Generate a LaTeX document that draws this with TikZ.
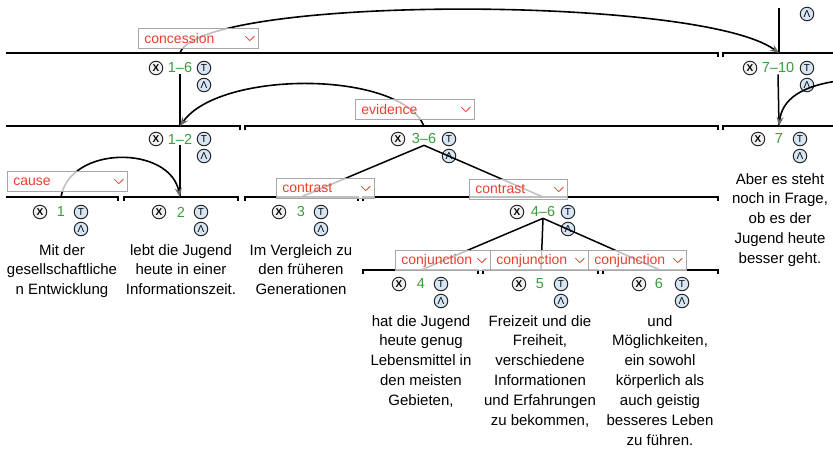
\documentclass[tikz,border=0pt]{standalone}
\usepackage{fontspec}
\setmainfont{Liberation Sans}
\usetikzlibrary{arrows.meta,calc}
\definecolor{relred}{HTML}{E8402F}
\definecolor{numgreen}{HTML}{3C9C3C}
\definecolor{cblue}{HTML}{D6E6F4}
\newcommand\rstlab[6]{%
  \node[num] (#1) at (#2,#3) {#4};
  \node[xc] (#1x) at ($(#1)+(-#5,0)$) {X};
  \node[tc] (#1t) at ($(#1)+(#6,0)$) {T};
  \node[ac] (#1a) at ($(#1)+(#6,17)$) {Λ};
}
\newcommand\chev[1]{%
  \draw[relred, line width=0.8pt] ($(#1.east)+(-13.5,-2.2)$) -- ($(#1.east)+(-9,2.2)$) -- ($(#1.east)+(-4.5,-2.2)$);
}
\begin{document}
\begin{tikzpicture}[x=1pt,y=-1pt,
  spanline/.style={line width=1.4pt},
  tree/.style={line width=1.5pt},
  arc/.style={line width=1.6pt, -{Stealth[length=9pt,width=7pt,inset=3pt,fill=black!60,color=black!60]}},
  num/.style={text=numgreen, font=\fontsize{14.5}{15}\selectfont, inner sep=1pt},
  circ/.style={circle, draw=black!85, minimum size=13.5pt, inner sep=0pt, line width=1pt, font=\fontsize{10}{10}\selectfont},
  xc/.style={circ, fill=gray!10, font=\fontsize{10}{10}\selectfont\bfseries},
  tc/.style={circ, fill=cblue},
  ac/.style={circ, fill=cblue},
  relbox/.style={draw=gray!70, line width=0.8pt, fill=white, fill opacity=0.75, text opacity=1,
    text=relred, font=\fontsize{14}{14}\selectfont, minimum height=20pt, inner xsep=6pt, inner ysep=0pt,
    anchor=north west, align=left},
  edu/.style={align=center, font=\fontsize{15}{19.9}\selectfont, anchor=north, inner sep=0pt}
]
\useasboundingbox (0,0) rectangle (833,448);
\clip (0,0) rectangle (833,448);
\fill[white] (0,0) rectangle (833,448);

% span lines
\draw[spanline] (6,53) -- (718,53) -- (718,57);
\draw[spanline] (723,57) -- (723,53) -- (840,53);
\draw[spanline] (6,126) -- (240,126) -- (240,130);
\draw[spanline] (245,130) -- (245,126) -- (718,126) -- (718,130);
\draw[spanline] (723,130) -- (723,126) -- (840,126);
\draw[spanline] (6,197) -- (118,197) -- (118,201);
\draw[spanline] (124,201) -- (124,197) -- (238,197) -- (238,201);
\draw[spanline] (245,201) -- (245,197) -- (358,197) -- (358,201);
\draw[spanline] (363,201) -- (363,197) -- (718,197) -- (718,201);
\draw[spanline] (363,274) -- (363,270) -- (478,270) -- (478,274);
\draw[spanline] (483,274) -- (483,270) -- (598,270) -- (598,274);
\draw[spanline] (603,274) -- (603,270) -- (718,270) -- (718,274);

% attachment coordinates
\coordinate (top710) at (779,8);
\coordinate (p16) at (180,53);
\coordinate (p710) at (779,53);
\coordinate (s16) at (180,126);
\coordinate (p36) at (424,126);
\coordinate (s7) at (779,126);
\coordinate (p810) at (845,80);
\coordinate (p1) at (61,197);
\coordinate (s2) at (180,197);
\coordinate (s3) at (301,197);
\coordinate (s46) at (543,197);
\coordinate (s4) at (421,270);
\coordinate (s5) at (541,270);
\coordinate (s6) at (660,270);

% labels
\node[ac] (topa) at (807,14) {Λ};
\rstlab{n16}{180}{68}{1--6}{24}{24}
\rstlab{n710}{778}{68}{7--10}{28}{29}
\rstlab{n12}{180}{139}{1--2}{24}{24}
\rstlab{n36}{424}{139}{3--6}{26}{25}
\rstlab{n7}{779}{139}{7}{21}{21}
\rstlab{n1}{61}{212}{1}{21}{20}
\rstlab{n2}{181}{212}{2}{22}{20}
\rstlab{n3}{301}{212}{3}{22}{20}
\rstlab{n46}{543}{212}{4--6}{26}{25}
\rstlab{n4}{421}{284}{4}{22}{20}
\rstlab{n5}{540}{284}{5}{21}{21}
\rstlab{n6}{659}{284}{6}{20}{23}

% tree connectors
\draw[tree] (top710) -- (p710);
\draw[tree] (n16.south) -- (s16);
\draw[tree] (n710.south) -- (s7);
\draw[tree] (n12.south) -- (s2);
\draw[tree] (n36.south) -- (s3);
\draw[tree] (n36.south) -- (s46);
\draw[tree] (n46.south) -- (s4);
\draw[tree] (n46.south) -- (s5);
\draw[tree] (n46.south) -- (s6);

% relation arcs
\draw[arc] (p16) .. controls (200,-5) and (700,-5) .. (p710);
\draw[arc] (p36) .. controls (400,70) and (220,70) .. (s16);
\draw[arc] (p1) .. controls (70,145) and (170,145) .. (s2);
\draw[arc] (p810) .. controls (800,85) and (782,100) .. (s7);

% relation boxes
\node[relbox, text width=108pt] (rconc) at (138,28) {concession}; \chev{rconc}
\node[relbox, text width=108pt] (rcause) at (7,171) {cause}; \chev{rcause}
\node[relbox, text width=107pt] (revid) at (355,99) {evidence}; \chev{revid}
\node[relbox, text width=86pt] (rcon1) at (276,178) {contrast}; \chev{rcon1}
\node[relbox, text width=86pt] (rcon2) at (469,179) {contrast}; \chev{rcon2}
\node[relbox, text width=83pt] (rconj1) at (395,250) {conjunction}; \chev{rconj1}
\node[relbox, text width=86pt] (rconj2) at (490,250) {conjunction}; \chev{rconj2}
\node[relbox, text width=86pt] (rconj3) at (588,250) {conjunction}; \chev{rconj3}

% EDU texts
\node[edu] (e1) at (62,244) {Mit der\\gesellschaftliche\\n Entwicklung};
\node[edu] (e2) at (181,244) {lebt die Jugend\\heute in einer\\Informationszeit.};
\node[edu] (e3) at (301,244) {Im Vergleich zu\\den früheren\\Generationen};
\node[edu] (e7) at (780,173) {Aber es steht\\noch in Frage,\\ob es der\\Jugend heute\\besser geht.};
\node[edu] (e4) at (421,315) {hat die Jugend\\heute genug\\Lebensmittel in\\den meisten\\Gebieten,};
\node[edu] (e5) at (540,315) {Freizeit und die\\Freiheit,\\verschiedene\\Informationen\\und Erfahrungen\\zu bekommen,};
\node[edu] (e6) at (660,315) {und\\Möglichkeiten,\\ein sowohl\\körperlich als\\auch geistig\\besseres Leben\\zu führen.};
\end{tikzpicture}
\end{document}
